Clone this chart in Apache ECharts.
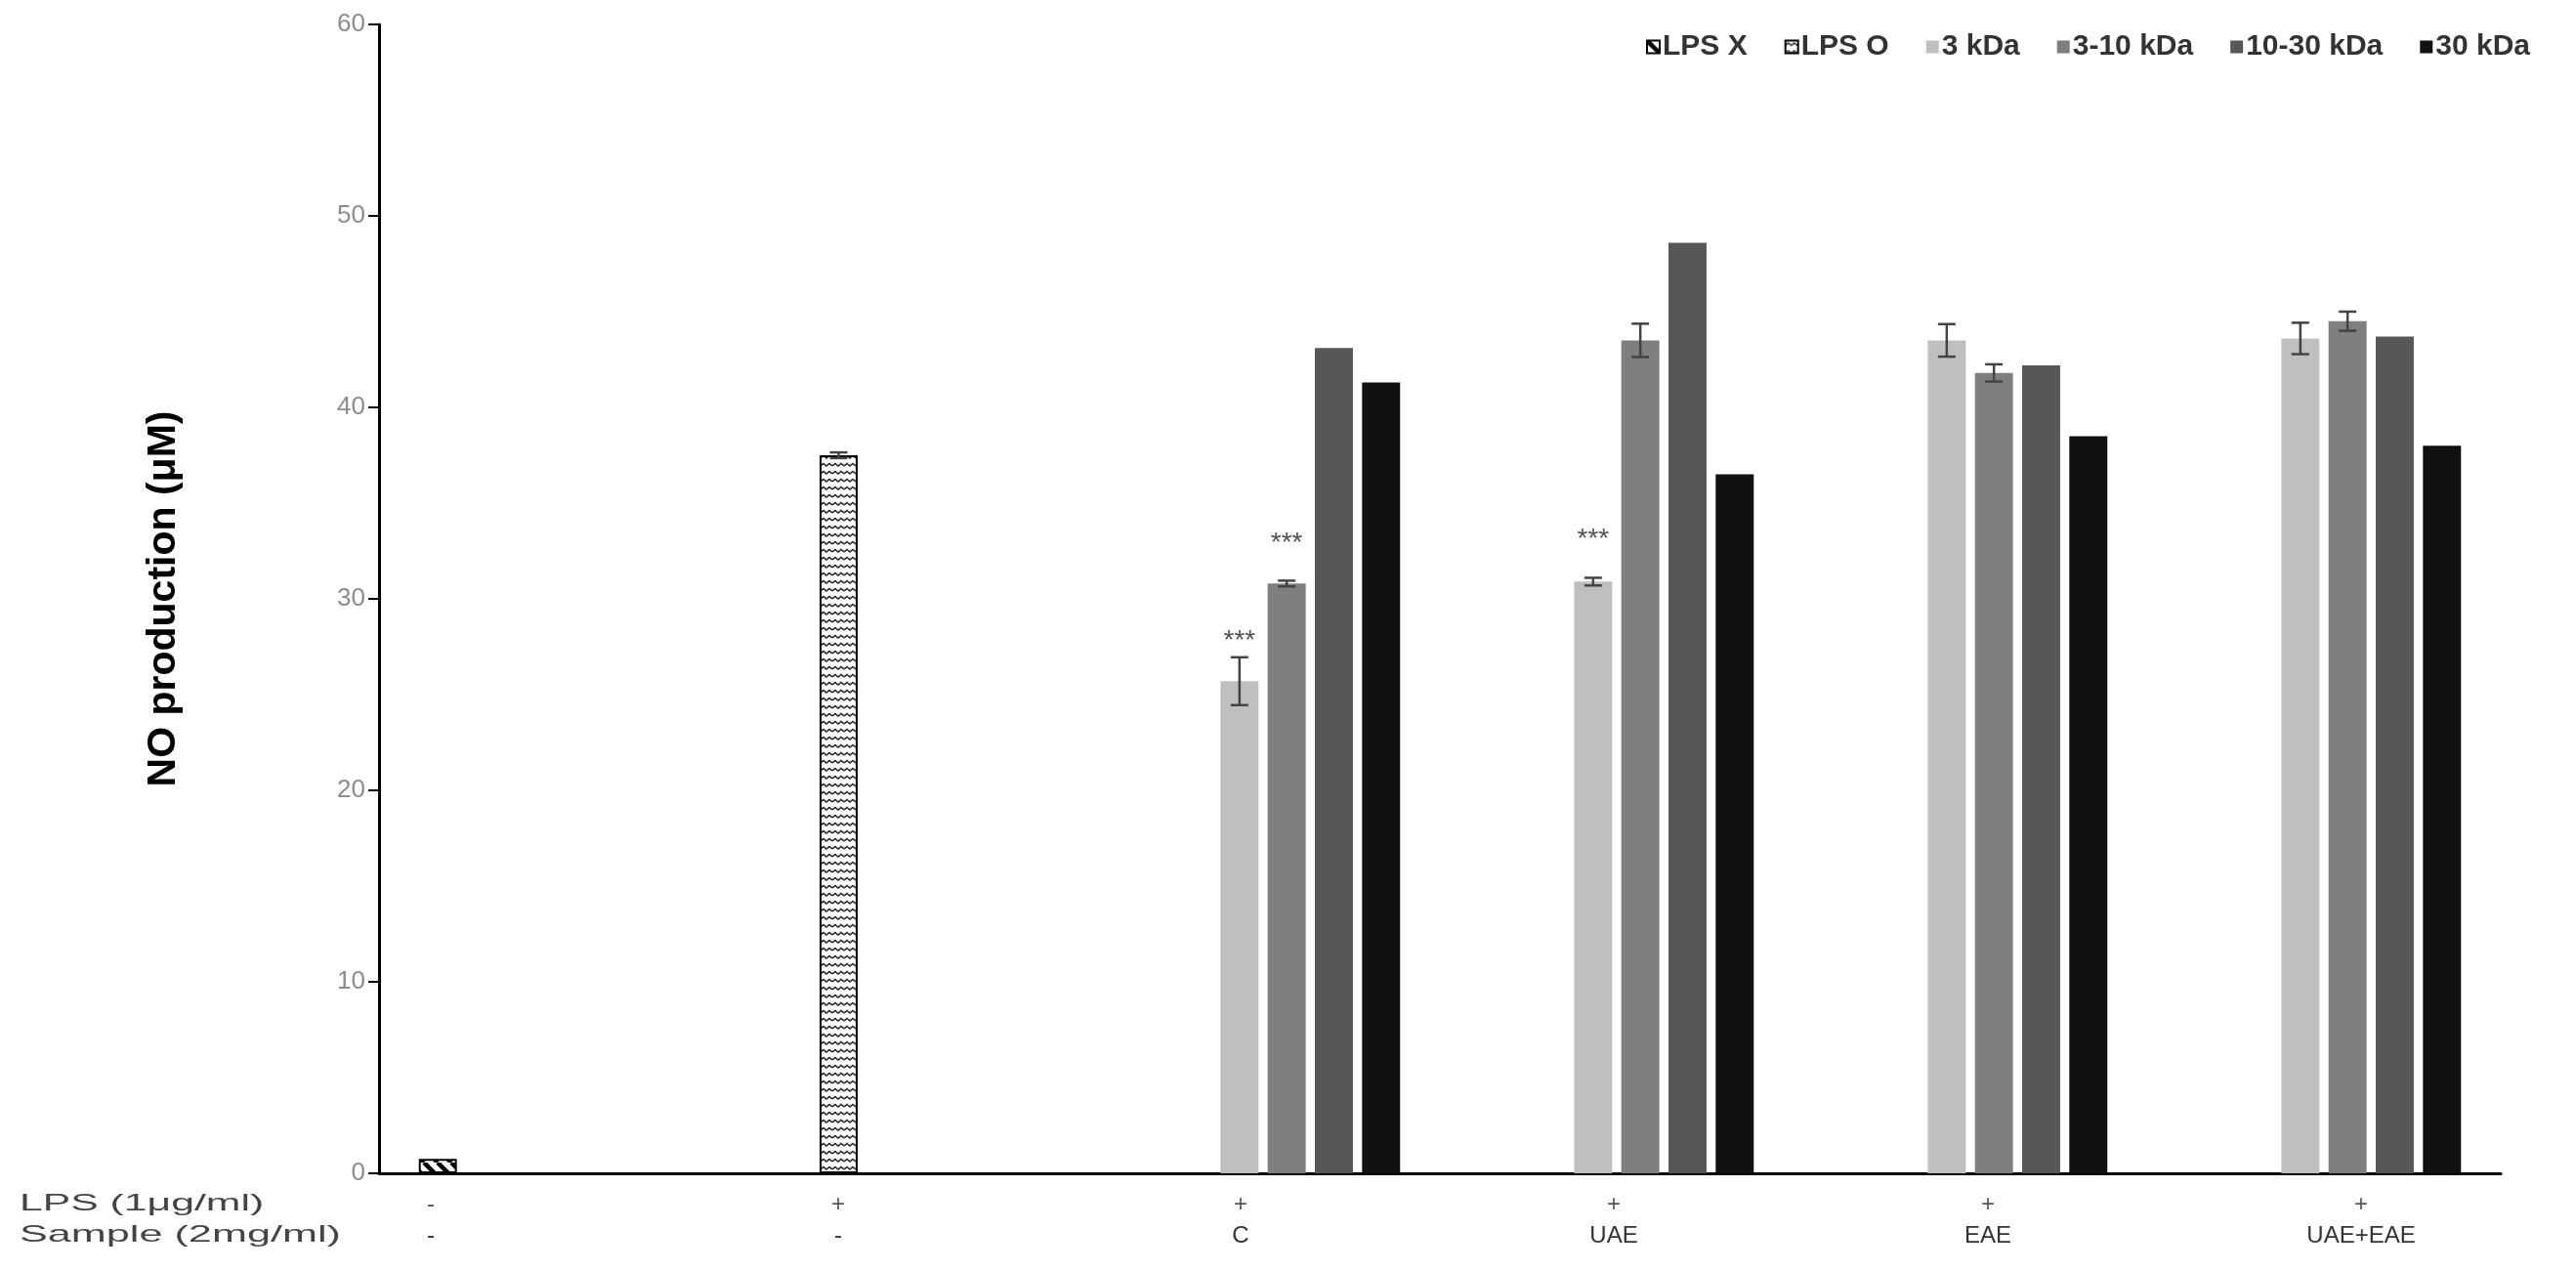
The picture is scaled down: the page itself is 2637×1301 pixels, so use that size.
<!DOCTYPE html>
<html>
<head>
<meta charset="utf-8">
<title>NO production</title>
<script src="https://cdn.jsdelivr.net/npm/echarts@6/dist/echarts.min.js"></script>
<style>
  html, body { margin: 0; padding: 0; background: #fff; }
  #main { width: 2637px; height: 1301px; }
</style>
</head>
<body>
<div id="main"></div>
<script>
// groups on the x axis and the two rows of the table under it
var categories = ['ctrl', 'lps', 'C', 'UAE', 'EAE', 'UAE+EAE'];
var lpsRow = ['-', '+', '+', '+', '+', '+'];
var sampleRow = ['-', '-', 'C', 'UAE', 'EAE', 'UAE+EAE'];
var yTicks = [0, 10, 20, 30, 40, 50, 60];

var seriesNames = ['LPS X', 'LPS O', '3 kDa', '3-10 kDa', '10-30 kDa', '30 kDa'];

// NO production (uM), mean and error
var lpsX = [0.75, null, null, null, null, null];
var lpsO = [null, 37.5, null, null, null, null];
var lpsOErr = [null, 0.15, null, null, null, null];
var kda3 = [null, null, 25.7, 30.9, 43.5, 43.6];
var kda3Err = [null, null, 1.25, 0.2, 0.85, 0.82];
var kda3to10 = [null, null, 30.8, 43.5, 41.8, 44.5];
var kda3to10Err = [null, null, 0.15, 0.87, 0.45, 0.5];
var kda10to30 = [null, null, 43.1, 48.6, 42.2, 43.7];
var kda30 = [null, null, 41.3, 36.5, 38.5, 38.0];

// where the *** marks sit (y value)
var star3 = [null, null, 27.8, 33.1, null, null];
var star3to10 = [null, null, 32.9, null, null, null];

var FONT = "'Liberation Sans', Arial, Helvetica, sans-serif";
var CAT_GAP = 0.225, BAR_GAP = 0.24, N = 6;

function slotOffset(band, k) {
  var used = band * (1 - CAT_GAP);
  var w = used / (N + (N - 1) * BAR_GAP);
  return -used / 2 + w / 2 + k * w * (1 + BAR_GAP);
}

function stripePattern() {
  var c = document.createElement('canvas');
  c.width = 14; c.height = 14;
  var g = c.getContext('2d');
  g.fillStyle = '#fff'; g.fillRect(0, 0, 14, 14);
  g.strokeStyle = '#000'; g.lineWidth = 4.5;
  [-14, 0, 14].forEach(function (o) {
    g.beginPath(); g.moveTo(o, 0); g.lineTo(o + 14, 14); g.stroke();
  });
  return c;
}

function zigzagPattern() {
  var c = document.createElement('canvas');
  c.width = 12; c.height = 8;
  var g = c.getContext('2d');
  g.fillStyle = '#fff'; g.fillRect(0, 0, 12, 8);
  g.strokeStyle = '#222'; g.lineWidth = 1.6;
  g.beginPath();
  g.moveTo(0, 5); g.lineTo(3, 2.5); g.lineTo(6, 5); g.lineTo(9, 2.5); g.lineTo(12, 5);
  g.stroke();
  return c;
}

function barSeries(name, data, style) {
  return {
    type: 'bar', name: name, data: data,
    barGap: (BAR_GAP * 100) + '%', barCategoryGap: (CAT_GAP * 100) + '%',
    itemStyle: style
  };
}

function errorSeries(k, values, errors) {
  var data = [];
  values.forEach(function (v, i) {
    if (v != null && errors[i] != null) data.push([i, v, errors[i]]);
  });
  return {
    type: 'custom', silent: true, z: 5, data: data,
    encode: { x: 0, y: 1 },
    renderItem: function (params, api) {
      var band = api.size([1, 0])[0];
      var i = api.value(0), v = api.value(1), e = api.value(2);
      var x = api.coord([i, v])[0] + slotOffset(band, k);
      var hi = api.coord([i, v + e])[1];
      var lo = api.coord([i, v - e])[1];
      var ls = { stroke: '#444', lineWidth: 2.5 };
      return {
        type: 'group',
        children: [
          { type: 'line', shape: { x1: x, y1: hi, x2: x, y2: lo }, style: ls },
          { type: 'line', shape: { x1: x - 9, y1: hi, x2: x + 9, y2: hi }, style: ls },
          { type: 'line', shape: { x1: x - 9, y1: lo, x2: x + 9, y2: lo }, style: ls }
        ]
      };
    }
  };
}

function starSeries(k, levels) {
  var data = [];
  levels.forEach(function (v, i) { if (v != null) data.push([i, v]); });
  return {
    type: 'custom', silent: true, z: 6, data: data,
    encode: { x: 0, y: 1 },
    renderItem: function (params, api) {
      var band = api.size([1, 0])[0];
      var p = api.coord([api.value(0), api.value(1)]);
      return {
        type: 'text',
        x: p[0] + slotOffset(band, k), y: p[1],
        style: {
          text: '***', fill: '#555', font: '28px ' + FONT,
          align: 'center', verticalAlign: 'middle'
        }
      };
    }
  };
}

// nudges of the table text under each group
var labelShift = [-128, -73, -23, -3, 18, 38];
var rich = {};
labelShift.forEach(function (s, i) {
  var pad = [0, s < 0 ? -2 * s : 0, 0, s > 0 ? 2 * s : 0];
  rich['a' + i] = { fontSize: 24, fontFamily: FONT, color: '#555', lineHeight: 32, padding: pad };
  rich['b' + i] = { fontSize: 24, fontFamily: FONT, color: '#333', lineHeight: 32, padding: pad };
});

var chart = echarts.init(document.getElementById('main'));
chart.setOption({
  animation: false,
  backgroundColor: '#fff',
  grid: { left: 388, right: 77, top: 25, bottom: 100, containLabel: false },
  legend: {
    data: seriesNames,
    right: 42, top: 28,
    itemWidth: 13, itemHeight: 13, itemGap: 38,
    icon: 'rect',
    textStyle: { fontSize: 30, fontWeight: 'bold', color: '#333', fontFamily: FONT, padding: [0, 0, 0, -2] }
  },
  xAxis: {
    type: 'category',
    data: categories,
    axisLine: { lineStyle: { color: '#000', width: 3 } },
    axisTick: { length: 8, lineStyle: { color: '#000', width: 2 } },
    axisLabel: {
      margin: 16,
      interval: 0,
      formatter: function (v, i) {
        return '{a' + i + '|' + lpsRow[i] + '}\n{b' + i + '|' + sampleRow[i] + '}';
      },
      rich: rich
    },
    splitLine: { show: false }
  },
  yAxis: {
    type: 'value',
    min: yTicks[0], max: yTicks[yTicks.length - 1], interval: yTicks[1] - yTicks[0],
    name: 'NO production (μM)',
    nameLocation: 'middle',
    nameGap: 200,
    nameTextStyle: { fontSize: 41, fontWeight: 'bold', color: '#000', fontFamily: FONT },
    axisLine: { show: true, lineStyle: { color: '#000', width: 3 } },
    axisTick: { show: true, length: 11, lineStyle: { color: '#000', width: 2 } },
    axisLabel: { fontSize: 26, color: '#8c8c8c', fontFamily: FONT, margin: 14 },
    splitLine: { show: false }
  },
  graphic: [
    { type: 'text', left: 20, top: 1220, scaleX: 1.78,
      style: { text: 'LPS (1μg/ml)', font: '24px ' + FONT, fill: '#444' } },
    { type: 'text', left: 20, top: 1252, scaleX: 1.8,
      style: { text: 'Sample (2mg/ml)', font: '24px ' + FONT, fill: '#444' } }
  ],
  series: [
    barSeries('LPS X', lpsX, { color: { image: stripePattern(), repeat: 'repeat' }, borderColor: '#000', borderWidth: 2 }),
    barSeries('LPS O', lpsO, { color: { image: zigzagPattern(), repeat: 'repeat' }, borderColor: '#000', borderWidth: 2 }),
    barSeries('3 kDa', kda3, { color: '#bfbfbf' }),
    barSeries('3-10 kDa', kda3to10, { color: '#7f7f7f' }),
    barSeries('10-30 kDa', kda10to30, { color: '#575757' }),
    barSeries('30 kDa', kda30, { color: '#111111' }),
    errorSeries(1, lpsO, lpsOErr),
    errorSeries(2, kda3, kda3Err),
    errorSeries(3, kda3to10, kda3to10Err),
    starSeries(2, star3),
    starSeries(3, star3to10)
  ]
});
</script>
</body>
</html>
